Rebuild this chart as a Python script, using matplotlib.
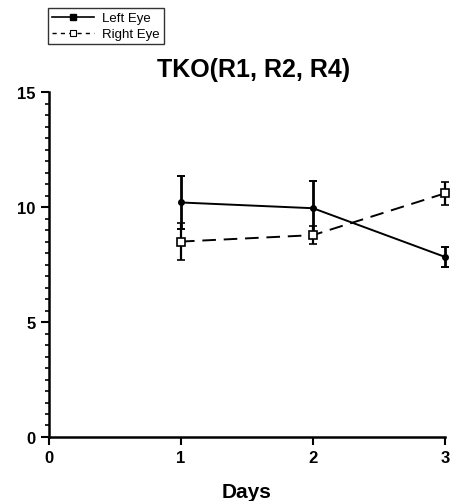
import numpy as np
import matplotlib.pyplot as plt
from matplotlib.lines import Line2D
from matplotlib.ticker import MultipleLocator

days = np.array([1, 2, 3])
left_eye = np.array([10.2, 9.95, 7.83])
left_err = np.array([1.15, 1.2, 0.43])
right_eye = np.array([8.5, 8.78, 10.6])
right_err = np.array([0.8, 0.4, 0.5])

plt.rcParams['font.family'] = ['Liberation Sans', 'DejaVu Sans']

fig = plt.figure(figsize=(4.57, 5.02), dpi=100)
ax = fig.add_axes([0.107, 0.1275, 0.867, 0.687])

ax.errorbar(days, left_eye, yerr=left_err, color='black', lw=1.4,
            marker='o', ms=4, mfc='black', capsize=3, capthick=1.4,
            elinewidth=2, clip_on=False, zorder=3)
ax.errorbar(days, right_eye, yerr=right_err, color='black', lw=1.4,
            ls=(0, (7, 4)), marker='s', ms=6, mfc='white', mew=1.2,
            capsize=3, capthick=1.4, elinewidth=1.6, clip_on=False, zorder=3)

ax.set_xlim(0, 3)
ax.set_ylim(0, 15)
ax.set_xticks([0, 1, 2, 3])
ax.set_yticks([0, 5, 10, 15])
ax.yaxis.set_minor_locator(MultipleLocator(0.5))
for s in ['top', 'right']:
    ax.spines[s].set_visible(False)
for s in ['left', 'bottom']:
    ax.spines[s].set_linewidth(1.8)
ax.tick_params(axis='both', which='major', direction='out', length=6,
               width=1.5, labelsize=12)
ax.tick_params(axis='y', which='minor', direction='out', length=3, width=1.2)
for lab in ax.get_xticklabels() + ax.get_yticklabels():
    lab.set_fontweight('bold')

ax.set_xlabel('Days', fontsize=15, fontweight='bold', labelpad=12)
fig.text(0.555, 0.86, 'TKO(R1, R2, R4)', fontsize=18, fontweight='bold',
         ha='center', va='center')

# legend entries: plain line + marker, no error bars
handles = [
    Line2D([], [], color='black', lw=1.2, marker='s', ms=4, mfc='black'),
    Line2D([], [], color='black', lw=1.0, ls=(0, (3, 3)), marker='s', ms=5,
           mfc='white', mew=0.8),
]
leg = fig.legend(handles, ['Left Eye', 'Right Eye'], loc='upper left',
                 bbox_to_anchor=(0.105, 0.982), fontsize=9.5,
                 frameon=True, fancybox=False, edgecolor='black',
                 handlelength=3.2, borderpad=0.3, labelspacing=0.3,
                 handletextpad=0.6, borderaxespad=0)
leg.get_frame().set_linewidth(1.0)

fig.savefig('out.png', dpi=100)
